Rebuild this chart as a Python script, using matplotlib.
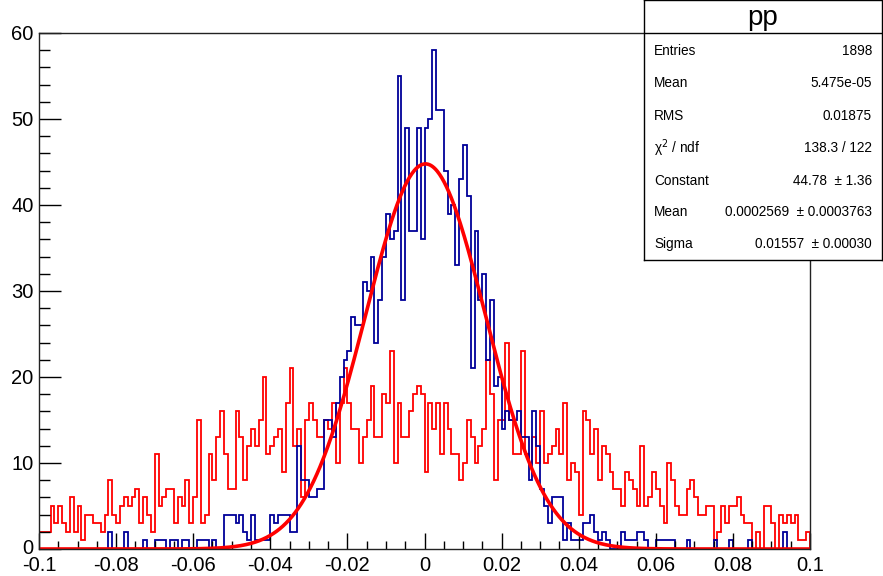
import numpy as np
import matplotlib
matplotlib.use("Agg")
import matplotlib.pyplot as plt
import matplotlib.transforms as mtransforms
from matplotlib.ticker import MultipleLocator

plt.rcParams["font.family"] = ["Liberation Sans", "DejaVu Sans"]

# histogram binning: 200 bins on [-0.1, 0.1]
x_lo, x_hi, n_bins = -0.1, 0.1, 200

# "pp" histogram (blue), counts per bin (20 bins per line)
pp_counts = (
    [0] * 18 + [2, 0]
    + [0, 0, 2, 0, 0, 0, 0, 1, 0, 0, 1, 1, 1, 0, 1, 1, 0, 1, 1, 0]
    + [0, 1, 1, 1, 0, 1, 0, 0, 4, 4, 4, 3, 4, 2, 1, 4, 1, 1, 1, 1]
    + [4, 3, 4, 4, 4, 2, 2, 12, 8, 8, 6, 6, 7, 7, 15, 15, 13, 17, 20, 22]
    + [23, 27, 26, 26, 31, 30, 34, 24, 29, 34, 39, 36, 37, 55, 29, 49, 37, 37, 49, 36]
    + [49, 50, 58, 51, 51, 44, 39, 40, 33, 43, 47, 41, 21, 37, 29, 32, 22, 29, 19, 20]
    + [14, 16, 15, 15, 16, 13, 13, 8, 16, 12, 7, 5, 3, 6, 6, 6, 1, 3, 1, 1]
    + [1, 3, 3, 4, 2, 1, 2, 1, 0, 0, 0, 2, 1, 1, 1, 2, 2, 1, 0, 0]
    + [1, 1, 1, 1, 1, 0, 0, 0, 1, 0, 0, 0, 0, 0, 0, 1, 0, 0, 0, 1]
    + [0, 0, 0, 0, 1, 0, 0, 0, 0, 0, 0, 0, 0, 2, 0, 0, 0, 0, 0, 0]
)

# second histogram (red)
other_counts = (
    [2, 2, 2, 5, 3, 5, 3, 2, 6, 2, 5, 1, 4, 4, 3, 3, 2, 4, 8, 4]
    + [3, 5, 6, 5, 6, 7, 3, 6, 4, 2, 11, 5, 6, 7, 7, 3, 6, 5, 8, 3]
    + [6, 15, 3, 4, 11, 8, 13, 16, 11, 7, 7, 16, 13, 8, 12, 14, 12, 15, 20, 11]
    + [12, 13, 14, 9, 17, 21, 12, 14, 6, 15, 17, 15, 13, 13, 15, 14, 17, 10, 17, 21]
    + [17, 14, 14, 10, 13, 15, 19, 13, 13, 18, 17, 23, 10, 17, 13, 13, 16, 18, 19, 18]
    + [9, 17, 14, 17, 11, 17, 14, 11, 11, 8, 10, 15, 13, 10, 12, 14, 22, 18, 8, 15]
    + [15, 24, 15, 11, 11, 23, 11, 10, 13, 10, 16, 10, 11, 12, 14, 11, 17, 8, 10, 9]
    + [4, 16, 15, 11, 14, 8, 12, 11, 9, 7, 7, 5, 9, 8, 7, 5, 12, 5, 6, 9]
    + [7, 5, 3, 10, 8, 5, 4, 4, 7, 8, 6, 4, 4, 5, 5, 1, 2, 5, 3, 5]
    + [5, 6, 4, 3, 3, 0, 2, 0, 5, 5, 3, 0, 4, 3, 4, 3, 4, 1, 1, 2]
)

# gaus fit parameters of "pp"
fit_const = 44.78
fit_mean = 0.0002569
fit_sigma = 0.01557

stat_title = "pp"
stat_labels = ["Entries", "Mean", "RMS", "χ$^{2}$ / ndf",
               "Constant", "Mean", "Sigma"]
stat_values = ["1898", "5.475e-05", "0.01875", "138.3 / 122",
               "44.78  ± 1.36", "0.0002569  ± 0.0003763", "0.01557  ± 0.00030"]

x_ticks = [-0.1, -0.08, -0.06, -0.04, -0.02, 0, 0.02, 0.04, 0.06, 0.08, 0.1]
x_tick_labels = ["-0.1", "-0.08", "-0.06", "-0.04", "-0.02", "0",
                 "0.02", "0.04", "0.06", "0.08", "0.1"]
y_ticks = [0, 10, 20, 30, 40, 50, 60]

W, H = 883, 576
fig = plt.figure(figsize=(W / 100, H / 100), dpi=100)
ax = fig.add_axes([39 / W, 1 - 549 / H, (810 - 39) / W, (549 - 33) / H])

edges = np.linspace(x_lo, x_hi, n_bins + 1)
ax.stairs(other_counts, edges, color="#ff0000", lw=1.3)
ax.stairs(pp_counts, edges, color="#000099", lw=1.3)

xf = np.linspace(x_lo, x_hi, 1000)
yf = fit_const * np.exp(-0.5 * ((xf - fit_mean) / fit_sigma) ** 2)
ax.plot(xf, yf, color="#ff0000", lw=2.6)

ax.set_xlim(x_lo, x_hi)
ax.set_ylim(0, 60)
ax.set_xticks(x_ticks)
ax.set_xticklabels(x_tick_labels)
ax.set_yticks(y_ticks)
ax.xaxis.set_minor_locator(MultipleLocator(0.005))
ax.yaxis.set_minor_locator(MultipleLocator(2))
ax.tick_params(axis="x", which="major", direction="in", length=11.3, width=1,
               labelsize=14.5, pad=5)
ax.tick_params(axis="x", which="minor", direction="in", length=5.6, width=1)
ax.tick_params(axis="y", which="major", direction="in", length=15.8, width=1,
               labelsize=14.5, pad=4)
ax.tick_params(axis="y", which="minor", direction="in", length=7.9, width=1)
for s in ax.spines.values():
    s.set_linewidth(1.0)
    s.set_color("#222222")

# lift the "0" of the y axis a few pixels so it clears "-0.1"
zero_lab = ax.get_yticklabels()[0]
zero_lab.set_transform(zero_lab.get_transform()
                       + mtransforms.ScaledTranslation(0, 3 / 100, fig.dpi_scale_trans))

# stats box
bx = fig.add_axes([644 / W, 1 - 260 / H, (882 - 644) / W, 260 / H])
bx.set_xlim(0, 238)
bx.set_ylim(260, 0)
bx.set_xticks([])
bx.set_yticks([])
for s in bx.spines.values():
    s.set_linewidth(1.0)
    s.set_color("black")
bx.axhline(33, color="black", lw=1.0)
bx.text(119, 18, stat_title, ha="center", va="center", fontsize=20)
rows_y = [51, 83, 116, 148, 181, 212, 244]
for y, lab, val in zip(rows_y, stat_labels, stat_values):
    bx.text(10, y, lab, ha="left", va="center", fontsize=9.8)
    bx.text(228, y, val, ha="right", va="center", fontsize=9.8)

fig.savefig("out.png", dpi=100)
